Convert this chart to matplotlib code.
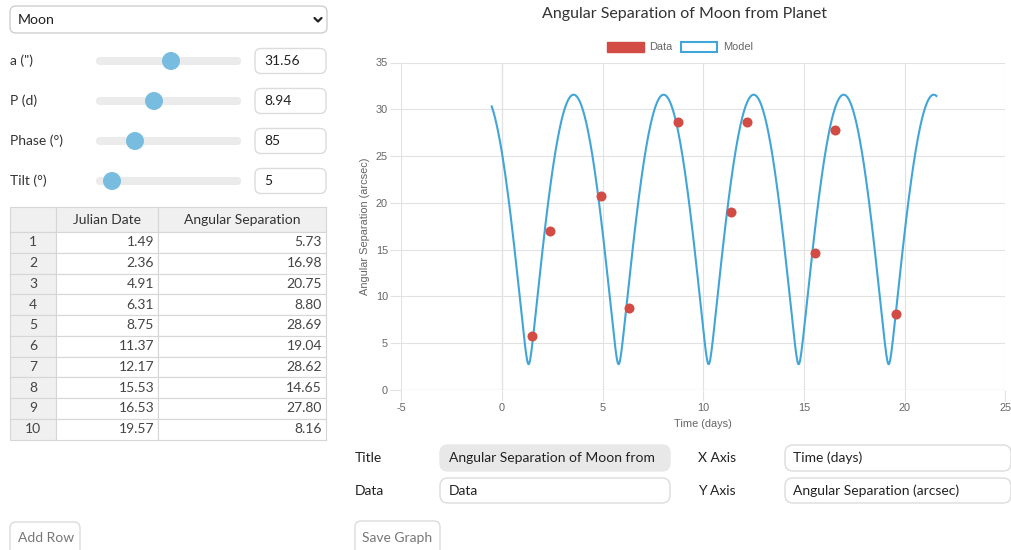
import numpy as np
import matplotlib.pyplot as plt
from matplotlib.patches import FancyBboxPatch, Rectangle, Circle

plt.rcParams['axes.unicode_minus'] = False

W, H = 1012, 550

# observations (the table on the left)
julian_date = [1.49, 2.36, 4.91, 6.31, 8.75, 11.37, 12.17, 15.53, 16.53, 19.57]
ang_sep = [5.73, 16.98, 20.75, 8.80, 28.69, 19.04, 28.62, 14.65, 27.80, 8.16]

# model parameters shown on the sliders
param_labels = ['a (")', 'P (d)', 'Phase (°)', 'Tilt (°)']
param_values = ['31.56', '8.94', '85', '5']
a_arcsec = 31.56
period_d = 8.94
tilt_deg = 5.0
node_time = 1.32  # time of the first minimum

x_ticks = [-5, 0, 5, 10, 15, 20, 25]
y_ticks = [0, 5, 10, 15, 20, 25, 30, 35]

chart_title = 'Angular Separation of Moon from Planet'
x_title = 'Time (days)'
y_title = 'Angular Separation (arcsec)'

RED = '#d24c45'
BLUE = '#42a5d8'
UI_FONT = 'Lato'
CH_FONT = 'Liberation Sans'


def model_sep(t):
    psi = 2 * np.pi * (t - node_time) / period_d
    return a_arcsec * np.sqrt(np.sin(psi) ** 2 + (np.cos(psi) * np.sin(np.radians(tilt_deg))) ** 2)


fig = plt.figure(figsize=(W / 100, H / 100), dpi=100)

# overlay in pixel coords for the page widgets
ui = fig.add_axes([0, 0, 1, 1])
ui.set_xlim(0, W)
ui.set_ylim(H, 0)
ui.axis('off')


def rbox(x0, y0, x1, y1, fc='white', ec='#d9d9d9', r=6, lw=1.0):
    ui.add_patch(FancyBboxPatch((x0, y0), x1 - x0, y1 - y0,
                                boxstyle=f'round,pad=0,rounding_size={r}',
                                fc=fc, ec=ec, lw=lw))


def txt(x, y, s, size=10, color='#333333', ha='left', **kw):
    ui.text(x, y, s, fontsize=size, color=color, ha=ha, va='center',
            family=UI_FONT, **kw)


# select box
rbox(10, 6, 327, 33, ec='#cfcfcf')
txt(18, 20, 'Moon', size=10.2, color='#222222')
ui.plot([314.5, 318, 321.5], [18, 21.5, 18], color='#222222', lw=1.6,
        solid_capstyle='round', solid_joinstyle='round')

# sliders
thumb_x = [171, 154, 135, 112]
for i, (lab, val) in enumerate(zip(param_labels, param_values)):
    cy = 61 + 40 * i
    txt(10, cy, lab)
    rbox(96, cy - 4, 241, cy + 4, fc='#ebebeb', ec='none', r=4)
    ui.add_patch(Circle((thumb_x[i], cy), 9, fc='#78bde0', ec='none'))
    rbox(255, cy - 12.5, 326, cy + 12.5, ec='#dcdcdc')
    txt(264, cy, val, color='#222222')

# table
col_x = [10, 56, 158, 326]
head_top, head_bot = 207, 232
row_h = 20.76
grid_c = '#d6d6d6'
for c in range(3):
    ui.add_patch(Rectangle((col_x[c], head_top), col_x[c + 1] - col_x[c], head_bot - head_top,
                           fc='#f0f0f0', ec=grid_c, lw=0.8))
txt((col_x[1] + col_x[2]) / 2, (head_top + head_bot) / 2, 'Julian Date', ha='center')
txt((col_x[2] + col_x[3]) / 2, (head_top + head_bot) / 2, 'Angular Separation', ha='center')
for r, (jd, sep) in enumerate(zip(julian_date, ang_sep)):
    y0 = head_bot + r * row_h
    ui.add_patch(Rectangle((col_x[0], y0), col_x[1] - col_x[0], row_h,
                           fc='#f0f0f0', ec=grid_c, lw=0.8))
    ui.add_patch(Rectangle((col_x[1], y0), col_x[2] - col_x[1], row_h,
                           fc='white', ec=grid_c, lw=0.8))
    ui.add_patch(Rectangle((col_x[2], y0), col_x[3] - col_x[2], row_h,
                           fc='white', ec=grid_c, lw=0.8))
    cy = y0 + row_h / 2
    txt(33, cy, str(r + 1), ha='center', color='#444444')
    txt(col_x[2] - 4, cy, f'{jd:.2f}', ha='right', color='#444444')
    txt(col_x[3] - 4, cy, f'{sep:.2f}', ha='right', color='#444444')

# buttons
rbox(10, 522, 80, 560, ec='#dcdcdc')
txt(18, 538, 'Add Row', color='#777777')
rbox(355, 521, 440, 560, ec='#dcdcdc')
txt(362, 538, 'Save Graph', color='#777777')

# chart option fields
txt(355, 458, 'Title', color='#222222')
rbox(440, 445, 670, 471, fc='#e8e8e8', ec='#e8e8e8', r=8)
txt(449, 458, 'Angular Separation of Moon from', color='#222222')
txt(355, 491, 'Data', color='#222222')
rbox(440, 478, 670, 503, ec='#dcdcdc', r=8)
txt(449, 491, 'Data', color='#222222')
txt(698, 458, 'X Axis', color='#222222')
rbox(785, 445, 1011, 471, ec='#dcdcdc', r=8)
txt(793, 458, x_title, color='#222222')
txt(698, 491, 'Y Axis', color='#222222')
rbox(785, 478, 1011, 503, ec='#dcdcdc', r=8)
txt(793, 491, y_title, color='#222222')

# chart title, legend and axis titles
txt(685, 14, chart_title, size=11.5, color='#333333', ha='center')
ui.add_patch(Rectangle((607, 42), 37, 10, fc=RED, ec=RED, lw=1))
ui.text(649, 47.5, 'Data', fontsize=7.9, color='#666666', va='center', family=CH_FONT)
ui.add_patch(Rectangle((681, 42), 36, 10, fc='white', ec=BLUE, lw=1.5))
ui.text(723, 47.5, 'Model', fontsize=7.9, color='#666666', va='center', family=CH_FONT)
ui.text(703, 424, x_title, fontsize=7.9, color='#666666', ha='center', va='center',
        family=CH_FONT)
ui.text(365, 226, y_title, fontsize=7.9, color='#666666', ha='center', va='center',
        rotation=90, family=CH_FONT)

# the chart itself
left, right, top, bottom = 401.3, 1005.5, 62.5, 390
ax = fig.add_axes([left / W, 1 - bottom / H, (right - left) / W, (bottom - top) / H])
ax.patch.set_alpha(0)
t = np.linspace(min(julian_date) - 2, max(julian_date) + 2, 800)
ax.plot(t, model_sep(t), color=BLUE, lw=1.5, zorder=2)
ax.scatter(julian_date, ang_sep, s=52, color=RED, zorder=3, linewidths=0)

ax.set_xlim(x_ticks[0], x_ticks[-1])
ax.set_ylim(y_ticks[0], y_ticks[-1])
ax.set_xticks(x_ticks)
ax.set_yticks(y_ticks)
for s in ax.spines.values():
    s.set_visible(False)
ax.grid(True, color='#e2e2e2', lw=0.8, zorder=0)
ax.axvline(0, color='#c4c4c4', lw=0.8, zorder=1)
ax.axhline(0, color='#c4c4c4', lw=0.8, zorder=1)
ax.tick_params(length=8, width=0.8, color='#e2e2e2', labelcolor='#666666',
               labelsize=7.9, pad=1.5)
for lab in ax.get_xticklabels() + ax.get_yticklabels():
    lab.set_family(CH_FONT)

fig.savefig('out.png', dpi=100)
